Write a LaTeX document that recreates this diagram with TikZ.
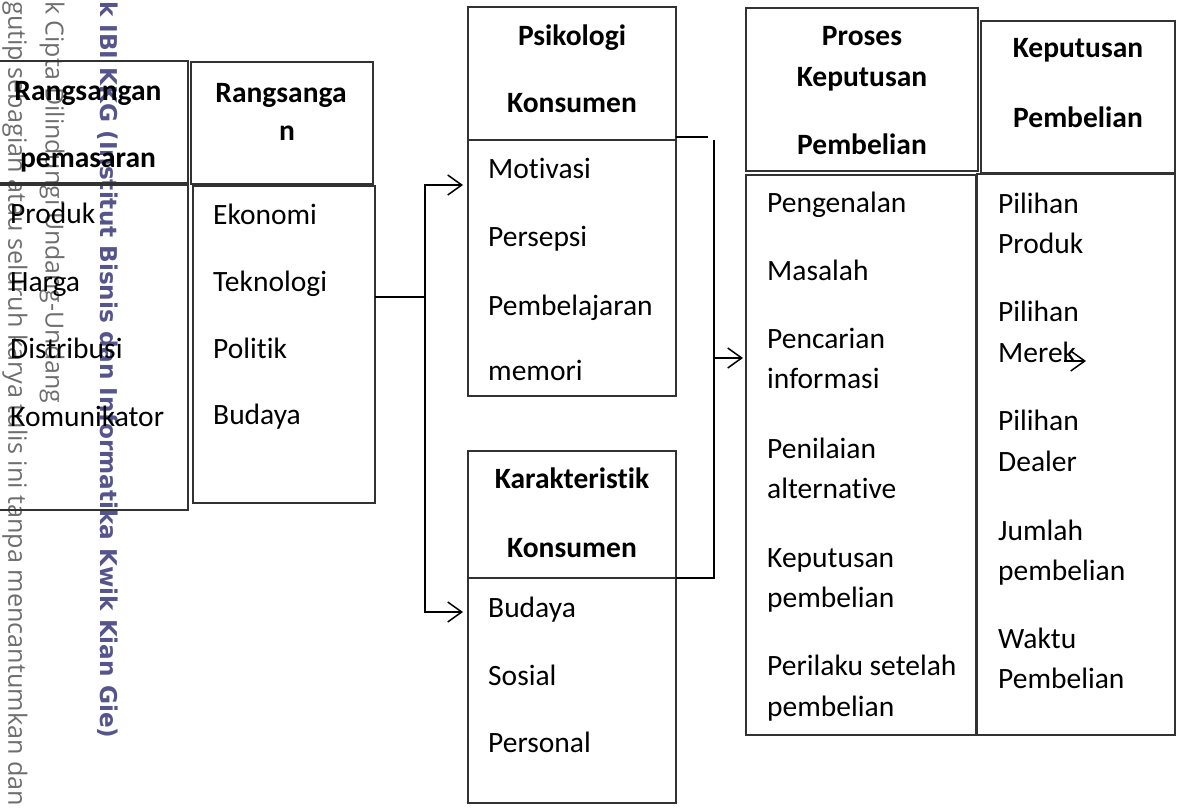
\documentclass[tikz,border=0pt]{standalone}
\usepackage{fontspec}
\usepackage{graphicx}
\setmainfont{Carlito}[Ligatures={NoCommon,NoContextual}]
\newfontfamily\wmfont{Open Sans}
\newfontfamily\wmbfont{DejaVu Sans}
\usetikzlibrary{arrows.meta}
\definecolor{boxc}{RGB}{50,50,50}
\definecolor{wmgray}{RGB}{110,110,110}
\definecolor{wmpurple}{RGB}{85,85,140}
\tikzset{
  cell/.style={draw=boxc, line width=1.4pt, inner sep=0pt, outer sep=0pt, anchor=north west},
  hd/.style={font=\bfseries\fontsize{29.5}{34}\selectfont, anchor=base, inner sep=0pt},
  it/.style={font=\fontsize{29.5}{34}\selectfont, anchor=base west, inner sep=0pt},
  wm/.style={rotate=-90, anchor=west, inner sep=0pt},
  ln/.style={line width=1.5pt, draw=black},
  arr/.style={ln, -{Straight Barb[length=14pt,width=20pt,line width=1.5pt]}},
}
\begin{document}
\begin{tikzpicture}[x=1pt,y=-1pt]
\useasboundingbox (0,0) rectangle (1177,809);
\clip (0,0) rectangle (1177,809);

% watermark
\node[wm, text=wmgray] (wm1) at (52,1) {\resizebox{402pt}{!}{\wmfont k Cipta Dilindungi Undang-Undang}};
\node[wm, text=wmgray] (wm2) at (15,1) {\resizebox{805pt}{!}{\wmfont gutip sebagian atau seluruh karya tulis ini tanpa mencantumkan dan}};
\node[wm, text=wmpurple] (wm3) at (108,1) {\resizebox{737pt}{!}{\wmbfont\bfseries k IBI KKG (Institut Bisnis dan Informatika Kwik Kian Gie)}};

% boxes
\node[cell, minimum width=200pt, minimum height=122pt] (mh) at (-12,61) {};
\node[cell, minimum width=200pt, minimum height=325pt] (mb) at (-12,185) {};
\node[cell, minimum width=182pt, minimum height=122pt] (sh) at (191,62) {};
\node[cell, minimum width=182pt, minimum height=317pt] (sb) at (193,186) {};
\node[cell, minimum width=208pt, minimum height=133pt] (ph) at (468,7) {};
\node[cell, minimum width=208pt, minimum height=256pt] (pb) at (468,140) {};
\node[cell, minimum width=208pt, minimum height=127pt] (kh) at (468,451) {};
\node[cell, minimum width=208pt, minimum height=225pt] (kb) at (468,578) {};
\node[cell, minimum width=232pt, minimum height=163pt] (prh) at (746,8) {};
\node[cell, minimum width=230pt, minimum height=560pt] (prb) at (746,175) {};
\node[cell, minimum width=194pt, minimum height=152pt] (dh) at (981,21) {};
\node[cell, minimum width=198pt, minimum height=561pt] (db) at (977,174) {};

% headers
\node[hd] (tmh1) at (88,100) {Rangsangan};
\node[hd] (tmh2) at (88,167) {pemasaran};
\node[hd] (tsh1) at (281,102) {Rangsanga};
\node[hd] (tsh2) at (287,140) {n};
\node[hd] (tph1) at (572,45) {Psikologi};
\node[hd] (tph2) at (572,112) {Konsumen};
\node[hd] (tkh1) at (572,488) {Karakteristik};
\node[hd] (tkh2) at (572,557) {Konsumen};
\node[hd] (tpr1) at (862,45) {Proses};
\node[hd] (tpr2) at (862,86) {Keputusan};
\node[hd] (tpr3) at (862,154) {Pembelian};
\node[hd] (tdh1) at (1078,57) {Keputusan};
\node[hd] (tdh2) at (1078,127) {Pembelian};

% items
\foreach \n/\y/\t in {1/223/Produk, 2/291/Harga, 3/358/Distribusi, 4/426/Komunikator}
  \node[it] (imb\n) at (10,\y) {\t};
\foreach \n/\y/\t in {1/224/Ekonomi, 2/291/Teknologi, 3/358/Politik, 4/424/Budaya}
  \node[it] (isb\n) at (213,\y) {\t};
\foreach \n/\y/\t in {1/178/Motivasi, 2/246/Persepsi, 3/315/Pembelajaran, 4/380/memori}
  \node[it] (ipb\n) at (488,\y) {\t};
\foreach \n/\y/\t in {1/617/Budaya, 2/685/Sosial, 3/752/Personal}
  \node[it] (ikb\n) at (488,\y) {\t};
\foreach \n/\y/\t in {1/212/Pengenalan, 2/280/Masalah, 3/348/Pencarian, 4/388/informasi, 5/458/Penilaian, 6/498/alternative, 7/567/Keputusan, 8/607/pembelian, 9/675/Perilaku setelah, 10/716/pembelian}
  \node[it] (iprb\n) at (767,\y) {\t};
\foreach \n/\y/\t in {1/213/Pilihan, 2/253/Produk, 3/321/Pilihan, 4/362/Merek, 5/430/Pilihan, 6/471/Dealer, 7/540/Jumlah, 8/580/pembelian, 9/648/Waktu, 10/688/Pembelian}
  \node[it] (idb\n) at (998,\y) {\t};

% left connector
\coordinate (jl) at (425,297);
\coordinate (jlt) at (425,185);
\coordinate (jlb) at (425,612);
\draw[ln] (sb.east |- jl) -- (jl);
\draw[arr, shorten >=5pt] (jlb) -- (jlt) -- (pb.west |- jlt);
\draw[arr, shorten >=5pt] (jl) -- (jlb) -- (kb.west |- jlb);

% right bracket
\coordinate (rt) at (708,137);
\coordinate (rv1) at (714,140);
\coordinate (rv2) at (714,578);
\coordinate (ra) at (714,358);
\draw[ln] (ph.south east |- rt) -- (rt);
\draw[ln] (rv1) -- (rv2) -- (kh.south east |- rv2);
\draw[arr, shorten >=3pt] (ra) -- (prb.west |- ra);

% stray arrow
\coordinate (sa1) at (1064,361);
\coordinate (sa2) at (1086,361);
\draw[arr] (sa1) -- (sa2);
\end{tikzpicture}
\end{document}
